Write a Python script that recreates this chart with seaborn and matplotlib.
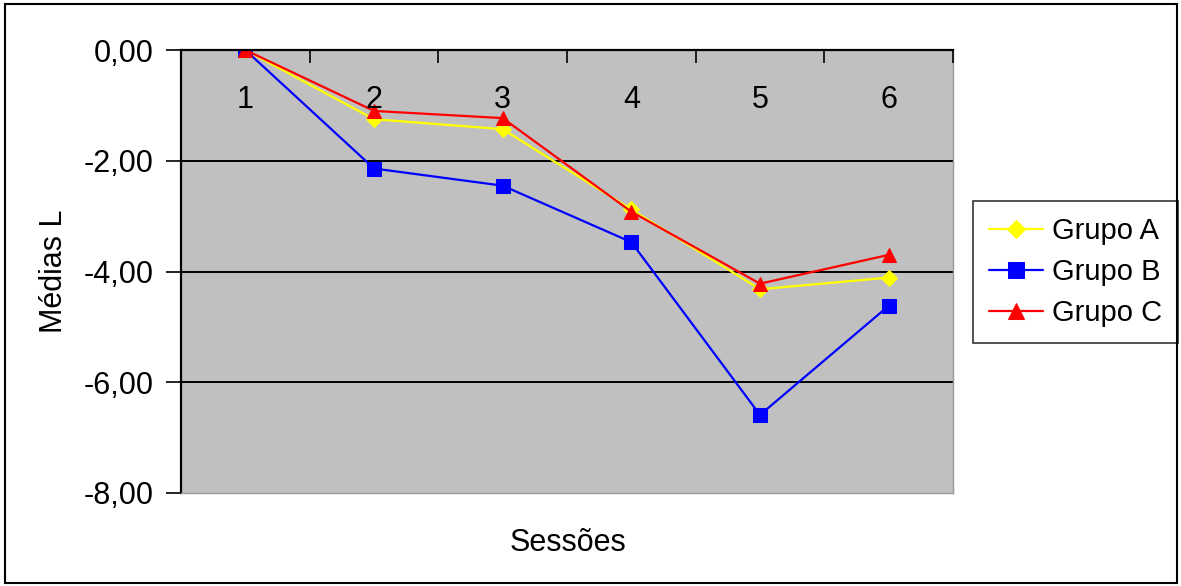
import matplotlib
matplotlib.use("Agg")
import matplotlib.pyplot as plt
import seaborn as sns
import pandas as pd
from matplotlib.ticker import FuncFormatter, FixedLocator
from matplotlib.patches import Rectangle

sessoes = ["1", "2", "3", "4", "5", "6"]
grupo_a = [0.00, -1.25, -1.43, -2.88, -4.32, -4.11]
grupo_b = [0.00, -2.14, -2.45, -3.47, -6.59, -4.62]
grupo_c = [0.00, -1.10, -1.23, -2.92, -4.22, -3.70]
grupos = ["Grupo A", "Grupo B", "Grupo C"]

rows = []
for g, vals in zip(grupos, [grupo_a, grupo_b, grupo_c]):
    for i, v in enumerate(vals):
        rows.append({"pos": i, "valor": v, "grupo": g})
df = pd.DataFrame(rows)

sns.set_theme(style="white")
plt.rcParams['font.family'] = ['Liberation Sans', 'DejaVu Sans']
plt.rcParams['text.color'] = 'black'
plt.rcParams['xtick.color'] = 'black'
plt.rcParams['ytick.color'] = 'black'
plt.rcParams['axes.labelcolor'] = 'black'

FS = 22

fig = plt.figure(figsize=(11.81, 5.86), dpi=100)
ax = fig.add_axes([181/1181, 1-493/586, (953-181)/1181, (493-50)/586])
ax.set_facecolor("#C0C0C0")

palette = {"Grupo A": "#FFFF00", "Grupo B": "#0000FF", "Grupo C": "#FF0000"}
markers = {"Grupo A": "D", "Grupo B": "s", "Grupo C": "^"}
sizes = {"Grupo A": 8, "Grupo B": 10, "Grupo C": 10.5}
for g in grupos:
    sub = df[df["grupo"] == g]
    sns.lineplot(data=sub, x="pos", y="valor", ax=ax, color=palette[g],
                 marker=markers[g], markersize=sizes[g], markeredgecolor=palette[g],
                 linewidth=1.6, label=g, zorder=2)

ax.set_xlim(-0.5, len(sessoes) - 0.5)
ax.set_ylim(-8, 0)

# grid lines
for yv in [-2, -4, -6]:
    ax.axhline(yv, color="black", linewidth=1.4, zorder=1)

ax.set_yticks([0, -2, -4, -6, -8])
ax.yaxis.set_major_formatter(FuncFormatter(lambda v, p: f"{v:.2f}".replace(".", ",")))
ax.tick_params(axis="y", direction="out", length=11, width=1.2, color="black",
               labelsize=FS, pad=9, left=True, labelcolor="black")

# x axis at top, labels inside plot
ax.xaxis.set_ticks_position("top")
ax.set_xticks(range(len(sessoes)))
ax.set_xticklabels(sessoes)
ax.tick_params(axis="x", which="major", length=0, labelsize=FS, pad=-47,
               labeltop=True, labelbottom=False, labelcolor="black")
ax.xaxis.set_minor_locator(FixedLocator([i - 0.5 for i in range(len(sessoes) + 1)]))
ax.tick_params(axis="x", which="minor", direction="in", length=9, width=1.2,
               color="black", top=True)
ax.xaxis.set_zorder(5)

for s in ["left", "top"]:
    ax.spines[s].set_color("black")
    ax.spines[s].set_linewidth(1.6)
for s in ["right", "bottom"]:
    ax.spines[s].set_color("#999999")
    ax.spines[s].set_linewidth(1.0)

ax.set_xlabel("")
ax.set_ylabel("Médias L", fontsize=FS, labelpad=10, color="black")
fig.text(568/1181, 1-543/586, "Sessões", ha="center", va="center", fontsize=FS, color="black")

leg = ax.legend(loc="upper left", bbox_to_anchor=(973/1181, 1-201/586),
                bbox_transform=fig.transFigure, frameon=True, fancybox=False,
                fontsize=21, handlelength=1.85, borderpad=0.55, labelspacing=0.45,
                handletextpad=0.3, borderaxespad=0, markerscale=1.15)
leg.get_frame().set_edgecolor("black")
leg.get_frame().set_linewidth(1.2)
leg.get_frame().set_facecolor("white")
for t in leg.get_texts():
    t.set_color("black")

fig.patches.append(Rectangle((5/1181, 3/586), 1172/1181, 579/586, transform=fig.transFigure,
                             fill=False, edgecolor="black", linewidth=1.5))

fig.savefig("out.png", dpi=100)
